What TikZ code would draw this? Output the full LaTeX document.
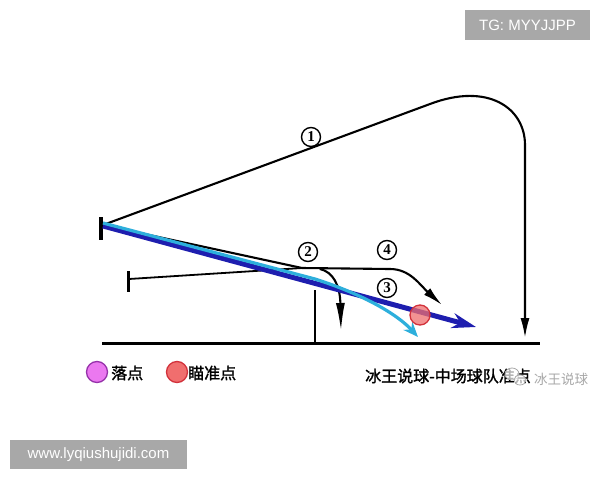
\documentclass[tikz,border=0pt]{standalone}
\usepackage{fontspec}
\setmainfont{Liberation Sans}
\newfontfamily\cjk{Noto Sans CJK SC}
\newfontfamily\cjkb[FakeBold=1.5]{Noto Sans CJK SC}
\newfontfamily\numfont{Liberation Serif}
\usetikzlibrary{arrows.meta}
\definecolor{navyblue}{RGB}{30,30,175}
\definecolor{skyline}{RGB}{45,175,220}
\definecolor{aimred}{RGB}{240,110,110}
\definecolor{aimedge}{RGB}{210,50,60}
\definecolor{landpink}{RGB}{235,120,240}
\definecolor{landedge}{RGB}{150,50,170}
\definecolor{wmgray}{RGB}{168,168,168}
\tikzset{
  traj/.style={line width=2.1pt, black},
  num/.style={circle, draw, line width=1.4pt, inner sep=0pt, minimum size=19pt, font=\numfont\fontsize{15}{15}\selectfont\bfseries},
  post/.style={line width=3.5pt, black},
  wmbox/.style={fill=wmgray, draw=none},
  wmtext/.style={text=white, font=\fontsize{15}{15}\selectfont},
  blacktip/.style={-{Latex[length=20pt,width=9pt]}},
}
\begin{document}
\begin{tikzpicture}[x=1pt,y=-1pt]
\useasboundingbox (0,0) rectangle (600,480);
\fill[white] (0,0) rectangle (600,480);

% coordinates
\coordinate (gtop) at (101,217);
\coordinate (gbot) at (101,240);
\coordinate (kick) at (103,225);
\coordinate (p2top) at (128,271);
\coordinate (p2bot) at (128,292);
\coordinate (p2mid) at (129,279);
\coordinate (groundL) at (102,343);
\coordinate (groundR) at (540,343);
\coordinate (vpostT) at (315,290);
\coordinate (vpostB) at (315,343);
\coordinate (r1) at (525,145);
\coordinate (r1end) at (525,338);
\coordinate (j1) at (302,268);
\coordinate (j2) at (320,269);
\coordinate (h4) at (390,269);
\coordinate (end4) at (442,305);
\coordinate (end2) at (341,331);
\coordinate (blueS) at (103,226);
\coordinate (blueE) at (476,327);
\coordinate (cyanS) at (103,223);
\coordinate (cyanM) at (315,279);
\coordinate (cyanE) at (418,337);

% ground
\draw[line width=3pt] (groundL) -- (groundR);
% posts
\draw[post] (gtop) -- (gbot);
\draw[post, line width=3pt] (p2top) -- (p2bot);
\draw[line width=1.8pt] (vpostT) -- (vpostB);

% trajectory 1
\draw[traj, blacktip] (kick) -- (430,104) .. controls (488,82) and (525,108) .. (r1) -- (r1end);

% black base line of trajectory 3 (under blue)
\draw[traj] (kick) -- (j1);
% lower line from second post
\draw[traj, line width=1.8pt] (p2mid) -- (j1);
% trajectory 4
\draw[traj, blacktip] (j1) -- (h4) .. controls (410,269) and (420,285) .. (end4);
% trajectory 2
\draw[traj, -{Latex[length=28pt,width=9pt]}] (j2) .. controls (333,272) and (340,285) .. (end2);

% blue trajectory 3
\draw[navyblue, line width=5pt, -{Stealth[length=24pt,width=15pt]}] (blueS) -- (blueE);
% cyan trajectory
\draw[skyline, line width=3.2pt, -{Stealth[length=15pt,width=12pt]}] (cyanS) -- (cyanM) .. controls (365,295) and (398,315) .. (cyanE);

% aim point
\node[circle, draw=aimedge, line width=1.3pt, fill=aimred, fill opacity=0.75, minimum size=20pt, inner sep=0pt] (aim) at (420,315) {};

% labels
\node[num] (n1) at (311,137) {1};
\node[num] (n2) at (308,252) {2};
\node[num] (n4) at (387,250) {4};
\node[num] (n3) at (387,288) {3};

% legend
\node[circle, draw=landedge, line width=1.3pt, fill=landpink, minimum size=21pt, inner sep=0pt] (lg1) at (97,372) {};
\node[anchor=west, font=\cjkb\fontsize{16}{16}\selectfont, inner sep=0pt] (lt1) at (111,373) {落点};
\node[circle, draw=aimedge, line width=1.3pt, fill=aimred, minimum size=21pt, inner sep=0pt] (lg2) at (177,372) {};
\node[anchor=west, font=\cjkb\fontsize{16}{16}\selectfont, inner sep=0pt] (lt2) at (188,373) {瞄准点};

% caption
\node[anchor=west, font=\cjkb\fontsize{16}{16}\selectfont, inner sep=0pt] (cap) at (365,376) {冰王说球-中场球队准点};

% wechat watermark
\draw[wmgray, fill=white, fill opacity=0.7, line width=0.8pt] (512,374) ellipse (7pt and 6pt);
\draw[wmgray, fill=white, fill opacity=0.7, line width=0.8pt] (520,380) ellipse (6pt and 5pt);
\node[anchor=west, text=wmgray, font=\cjk\fontsize{13.5}{14}\selectfont, inner sep=0pt] (wm3) at (534,379) {冰王说球};

% top-right badge
\node[wmbox, minimum width=125pt, minimum height=30pt, inner sep=0pt] (tg) at (527.5,25) {};
\node[wmtext] (tgt) at (tg.center) {TG: MYYJJPP};

% bottom-left badge
\node[wmbox, minimum width=177pt, minimum height=29pt, inner sep=0pt] (www) at (98.5,454.5) {};
\node[wmtext] (wwwt) at (www.center) {www.lyqiushujidi.com};
\end{tikzpicture}
\end{document}
